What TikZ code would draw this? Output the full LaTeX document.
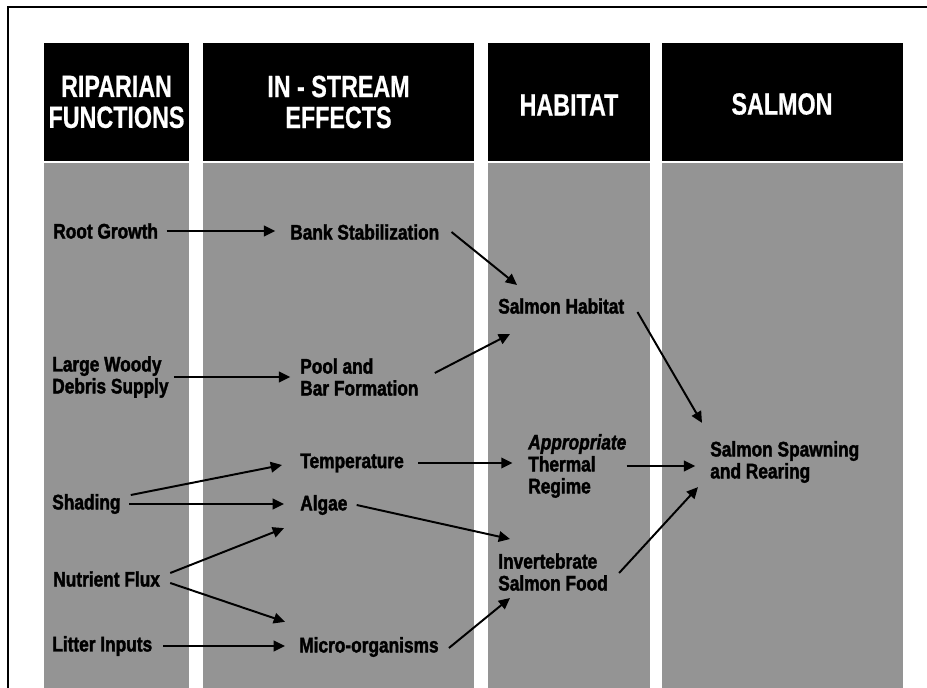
\documentclass[tikz,border=0pt]{standalone}
\usepackage{fontspec}
\setmainfont{Liberation Sans}
\newfontfamily\headfont{Liberation Sans}[FakeStretch=0.76, BoldFeatures={FakeBold=0.6}]
\newfontfamily\labelfont{Liberation Sans}[FakeStretch=0.82,
  BoldFeatures={FakeBold=1.8}, BoldItalicFeatures={FakeBold=1.8}]
\usetikzlibrary{arrows.meta,calc}

\tikzset{
  colhead/.style={fill=black},
  colbody/.style={fill=black!42},
  headtext/.style={text=white, align=center, inner sep=0pt,
    font=\headfont\bfseries\fontsize{21.8}{22}\selectfont},
  fact/.style={anchor=west, inner sep=0pt, align=left,
    font=\labelfont\bfseries\fontsize{15}{15.6}\selectfont},
  flow/.style={-{Triangle[length=8pt,width=7.5pt]}, line width=1.4pt,
    shorten <=6pt, shorten >=10pt},
  link/.style={flow, shorten <=0pt, shorten >=0pt}
}

\begin{document}
\begin{tikzpicture}[x=0.025cm, y=-0.025cm]
  \useasboundingbox (0,0) rectangle (927,688);
  \draw[line width=1pt] (8,688) -- (8,7) -- (927,7);
  % columns
  \foreach \xa/\xb in {44/189, 203/474, 488/650, 662/903}{
    \fill[colhead] (\xa,43) rectangle (\xb,161);
    \fill[colbody] (\xa,163) rectangle (\xb,688);
  }
  \node[headtext] (hRip) at (116.5,102) {RIPARIAN\\FUNCTIONS};
  \node[headtext] (hStr) at (338.5,102) {IN - STREAM\\EFFECTS};
  \node[headtext] (hHab) at (569,105) {HABITAT};
  \node[headtext] (hSal) at (782,104) {SALMON};

  % riparian functions
  \node[fact] (root)   at (53,231)  {Root Growth};
  \node[fact] (lwd)    at (52,377)  {Large Woody\\Debris Supply};
  \node[fact] (shade)  at (52,504)  {Shading};
  \node[fact] (nutr)   at (53,579)  {Nutrient Flux};
  \node[fact] (litter) at (52,646)  {Litter Inputs};
  % in-stream effects
  \node[fact] (bank)   at (290,232) {Bank Stabilization};
  \node[fact] (pool)   at (300,377) {Pool and\\Bar Formation};
  \node[fact] (temp)   at (300,463) {Temperature};
  \node[fact] (algae)  at (300,505) {Algae};
  \node[fact] (micro)  at (299,647) {Micro-organisms};
  % habitat
  \node[fact] (hab)    at (498,306) {Salmon Habitat};
  \node[fact] (therm)  at (528,466) {\itshape Appropriate\\Thermal\\Regime};
  \node[fact] (invert) at (498,572) {Invertebrate\\Salmon Food};
  % salmon
  \node[fact] (spawn)  at (710,462) {Salmon Spawning\\and Rearing};

  % links
  \draw[flow,shorten >=10.5pt] (root.east) -- (root.east -| bank.west);
  \draw[flow,shorten <=3.6pt,shorten >=7pt] (lwd.east) -- (lwd.east -| pool.west);
  \draw[flow,shorten >=11.4pt] (shade.east) -- (shade.east -| algae.west);
  \draw[flow,shorten <=7.8pt] (litter.east) -- (litter.east -| micro.west);
  \draw[flow,shorten <=10pt,shorten >=11pt] (temp.east) -- (temp.east -| therm.west);
  \draw[flow,shorten <=0pt,shorten >=10.5pt] (therm.east) -- (therm.east -| spawn.west);
  \draw[link] ($(bank.east)+(12,0)$) -- ($(hab.north west)+(19,-13)$);
  \draw[link] ($(pool.east)+(16,-4)$) -- ($(hab.south west)+(12,20)$);
  \draw[link] ($(hab.east)+(13,6)$) -- ($(spawn.north west)+(-8,-18)$);
  \draw[link] ($(shade.east)+(10,-9)$) -- ($(temp.west)+(-18,2)$);
  \draw[link] ($(algae.east)+(9,0)$) -- ($(invert.north west)+(12,-14)$);
  \draw[link] ($(nutr.east)+(10,-6)$) -- ($(algae.south west)+(-16,13)$);
  \draw[link] ($(nutr.east)+(10,4)$) -- ($(micro.north west)+(-14,-15)$);
  \draw[link] ($(micro.east)+(10,1)$) -- ($(invert.south west)+(12,7)$);
  \draw[link] ($(invert.east)+(11,1)$) -- ($(spawn.south west)+(-12,4)$);
\end{tikzpicture}
\end{document}
